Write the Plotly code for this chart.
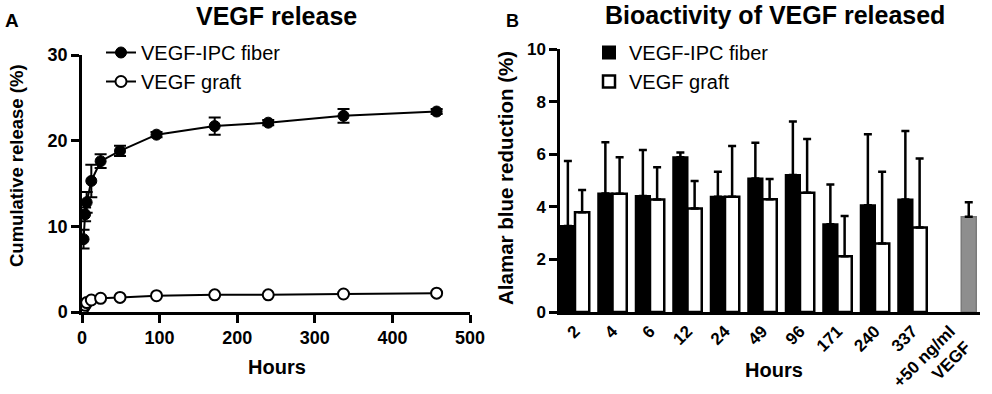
import plotly.graph_objects as go

# ---- Panel A data ----
hours_a = [2, 4, 6, 12, 24, 49, 96, 171, 240, 337, 457]
fiber_a = [8.5, 11.4, 12.8, 15.3, 17.6, 18.8, 20.7, 21.7, 22.1, 22.9, 23.4]
fiber_a_err = [1.1, 0.8, 1.2, 1.9, 0.8, 0.6, 0.3, 1.0, 0.3, 0.8, 0.3]
graft_a = [0.5, 0.8, 1.1, 1.4, 1.6, 1.7, 1.9, 2.0, 2.0, 2.1, 2.2]

# ---- Panel B data ----
cats_b = ["2", "4", "6", "12", "24", "49", "96", "171", "240", "337", "+50 ng/ml<br>VEGF"]
fiber_b = [3.27, 4.51, 4.41, 5.88, 4.38, 5.08, 5.21, 3.34, 4.06, 4.28]
fiber_b_sd = [2.47, 1.94, 1.75, 0.18, 0.95, 1.36, 2.03, 1.51, 2.70, 2.60]
graft_b = [3.79, 4.50, 4.28, 3.94, 4.38, 4.29, 4.53, 2.12, 2.60, 3.21]
graft_b_sd = [0.85, 1.38, 1.22, 1.04, 1.93, 0.77, 2.05, 1.53, 2.73, 2.63]
control_b = [3.62]
control_b_sd = [0.55]

FONT = "Liberation Sans, Arial, sans-serif"
W, H = 992, 394

def px(x0, x1):
    return [x0 / W, x1 / W]

def py(ytop, ybot):
    return [1 - ybot / H, 1 - ytop / H]

fig = go.Figure()

# Panel A
fig.add_trace(go.Scatter(
    x=hours_a, y=fiber_a, mode="lines+markers", name="VEGF-IPC fiber",
    line=dict(color="black", width=2),
    marker=dict(symbol="circle", size=11, color="black", line=dict(color="black", width=1)),
    error_y=dict(type="data", array=fiber_a_err, visible=True, color="black", thickness=2, width=6),
    xaxis="x", yaxis="y", legend="legend"))
fig.add_trace(go.Scatter(
    x=hours_a, y=graft_a, mode="lines+markers", name="VEGF graft",
    line=dict(color="black", width=2),
    marker=dict(symbol="circle", size=11, color="white", line=dict(color="black", width=2)),
    xaxis="x", yaxis="y", legend="legend"))

# Panel B
fig.add_trace(go.Bar(
    x=cats_b[:10], y=fiber_b, name="VEGF-IPC fiber",
    marker=dict(color="black", line=dict(color="black", width=2)),
    offset=-0.38, width=0.38,
    error_y=dict(type="data", symmetric=False, array=fiber_b_sd, arrayminus=[0] * 10,
                 color="black", thickness=2.5, width=4),
    xaxis="x2", yaxis="y2", legend="legend2"))
fig.add_trace(go.Bar(
    x=cats_b[:10], y=graft_b, name="VEGF graft",
    marker=dict(color="white", line=dict(color="black", width=2.5)),
    offset=0.0, width=0.38,
    error_y=dict(type="data", symmetric=False, array=graft_b_sd, arrayminus=[0] * 10,
                 color="black", thickness=2.5, width=4),
    xaxis="x2", yaxis="y2", legend="legend2"))
fig.add_trace(go.Bar(
    x=cats_b[10:], y=control_b, name="control", showlegend=False,
    marker=dict(color="#8e8e8e", line=dict(color="#7a7a7a", width=1.5)),
    offset=0.3, width=0.4,
    error_y=dict(type="data", symmetric=False, array=control_b_sd, arrayminus=[0],
                 color="black", thickness=2.5, width=4),
    xaxis="x2", yaxis="y2"))

def axis_style(size, ticks=True):
    return dict(showgrid=False, zeroline=False, showline=True, linecolor="black", linewidth=2.5,
                ticks="outside" if ticks else "", ticklen=8, tickwidth=2.5, tickcolor="black",
                automargin=False,
                tickfont=dict(family=FONT, size=size, color="black", weight="bold"))

fig.update_layout(
    width=W, height=H, margin=dict(l=0, r=0, t=0, b=0, autoexpand=False),
    paper_bgcolor="white", plot_bgcolor="white",
    barmode="overlay", font=dict(family=FONT, color="black"),
    xaxis=dict(domain=px(82, 470), range=[0, 500], tickvals=[0, 100, 200, 300, 400, 500],
               anchor="y", **axis_style(18)),
    yaxis=dict(domain=py(55, 312), range=[0, 30], tickvals=[0, 10, 20, 30],
               anchor="x", **axis_style(18)),
    xaxis2=dict(domain=px(560, 980), range=[-0.4, 10.8], type="category",
                categoryorder="array", categoryarray=cats_b, tickangle=-45,
                anchor="y2", **axis_style(17, ticks=False)),
    yaxis2=dict(domain=py(49, 312), range=[0, 10], tickvals=[0, 2, 4, 6, 8, 10],
                anchor="x2", **axis_style(17)),
    legend=dict(x=101 / W, y=1 - 33 / H, xanchor="left", yanchor="top",
                bgcolor="rgba(0,0,0,0)", font=dict(family=FONT, size=20, color="black"),
                tracegroupgap=0),
    legend2=dict(x=589 / W, y=1 - 33 / H, xanchor="left", yanchor="top",
                 bgcolor="rgba(0,0,0,0)", font=dict(family=FONT, size=20, color="black"),
                 tracegroupgap=0),
)

def ann(text, x, y, size, angle=0, bold=True):
    fig.add_annotation(text=text, x=x / W, y=1 - y / H, xref="paper", yref="paper",
                       showarrow=False, textangle=angle, xanchor="center", yanchor="middle",
                       font=dict(family=FONT, size=size, color="black",
                                 weight="bold" if bold else "normal"))

ann("A", 12, 20, 19)
ann("B", 512, 21, 18)
ann("VEGF release", 276, 16, 25)
ann("Bioactivity of VEGF released", 775, 15, 25)
ann("Cumulative release (%)", 16, 166, 18.5, -90)
ann("Alamar blue reduction (%)", 505, 178, 20.5, -90)
ann("Hours", 277, 367, 20)
ann("Hours", 774, 370, 20)

fig.write_html("out.html", config={"displayModeBar": False},
               post_script="document.body.style.margin='0';document.body.style.overflow='hidden';")
